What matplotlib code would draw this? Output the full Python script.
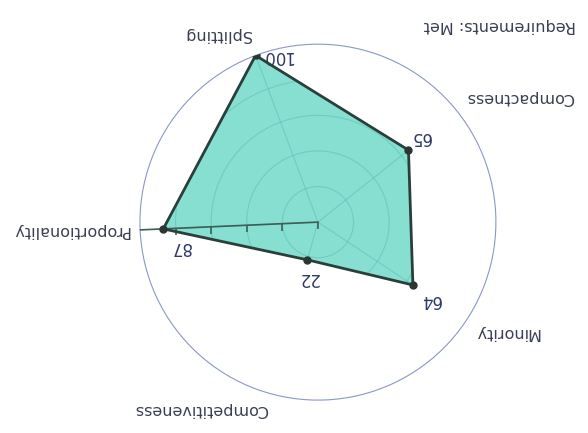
import numpy as np
import matplotlib.pyplot as plt
from matplotlib.lines import TICKDOWN

# chart data (the picture is upside down, so every text is turned 180 degrees)
categories = ['Proportionality', 'Splitting', 'Compactness', 'Minority', 'Competitiveness']
values = [87, 100, 65, 64, 22]
title = 'Requirements: Met'
rticks = [0, 20, 40, 60, 80]

# layout of the category labels: radius, ha, va (in picture orientation)
label_pos = [(106, 'right', 'center'), (108, 'right', 'bottom'), (106, 'left', 'bottom'),
             (105, 'left', 'top'), (105, 'right', 'top')]
# offset of the value labels from their points, in pixels
value_off = [(17, -18), (22, -1), (12, 13), (17, -15), (1, -18)]

plt.rcParams['font.family'] = ['DejaVu Sans']

fig = plt.figure(figsize=(5.88, 4.33), dpi=100)
ax = fig.add_axes([0.238, 0.076, 0.6054, 0.822], projection='polar')
ax.set_theta_offset(np.deg2rad(182.5))
ax.set_theta_direction(-1)

n = len(categories)
angles = np.arange(n) * 2 * np.pi / n
ang_c = np.append(angles, angles[0])
val_c = np.append(values, values[0])

ax.set_ylim(0, 100)
ax.set_xticks(angles)
ax.set_xticklabels([])
ax.set_yticks([20, 40, 60, 80])
ax.set_yticklabels([])
ax.tick_params(axis='x', length=4, width=0.8, color='#8a98c8', direction='in')
ax.tick_params(axis='y', length=0)
ax.spines['polar'].set_color('#8a98c8')
ax.spines['polar'].set_linewidth(0.8)
ax.set_axisbelow(False)
ax.grid(True, color='#5cb8b4', lw=0.8, alpha=0.5)

poly = ax.fill(ang_c, val_c, color='#86dfd0', zorder=2)[0]
for gl in ax.xaxis.get_gridlines() + ax.yaxis.get_gridlines():
    gl.set_clip_path(poly)

# radial axis with its ticks
ax.plot([0, 0], [0, 100], color='#3d5d58', lw=1.2, zorder=3)
ax.plot(np.zeros(len(rticks)), rticks, ls='none', marker=TICKDOWN, ms=5, mew=1.2,
        color='#3d5d58', zorder=3)

ax.plot(ang_c, val_c, color='#2b3f3a', lw=2, zorder=4)
ax.plot(angles, values, 'o', color='#2b3633', ms=5, zorder=5)

for a, name, (r, ha, va) in zip(angles, categories, label_pos):
    ax.text(a, r, name, rotation=180, ha=ha, va=va, fontsize=11.5, color='#3a3f55')

for a, v, off in zip(angles, values, value_off):
    ax.annotate(str(v), xy=(a, v), xytext=off, textcoords='offset pixels',
                rotation=180, ha='center', va='center', fontsize=12, color='#2d3a6b')

fig.text(0.85, 0.94, title, rotation=180, ha='center', va='center', fontsize=11.5,
         color='#3a3f55')

fig.savefig('out.png', dpi=100)
